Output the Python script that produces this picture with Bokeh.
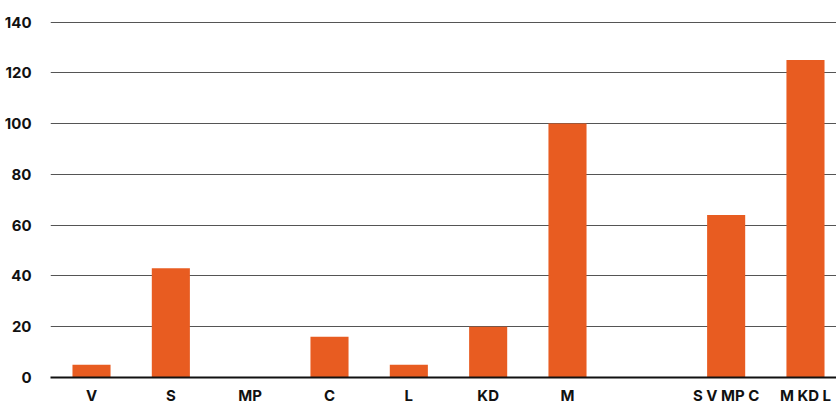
from bokeh.plotting import figure
from bokeh.models import Range1d, FixedTicker, ColumnDataSource
from bokeh.embed import file_html
from bokeh.resources import INLINE

categories = ["V", "S", "MP", "C", "L", "KD", "M", "", "S V MP C", "M KD L"]
values = [5, 43, 0, 16, 5, 20, 100, 0, 64, 125]
y_ticks = [0, 20, 40, 60, 80, 100, 120, 140]

xs = [i for i, c in enumerate(categories) if c]
src = ColumnDataSource(dict(x=list(range(len(categories))), top=values))

p = figure(width=836, height=407, output_backend="svg", toolbar_location=None,
           x_range=Range1d(-0.517, 9.391), y_range=Range1d(0, 140.6),
           min_border_left=50, min_border_right=0, min_border_top=20, min_border_bottom=30)
p.outline_line_color = None
p.background_fill_color = "white"

p.vbar(x="x", top="top", width=0.48, source=src, color="#E85C21", line_color=None)

p.xaxis.ticker = FixedTicker(ticks=xs)
p.xaxis.major_label_overrides = {i: categories[i] for i in xs}
p.yaxis.ticker = FixedTicker(ticks=y_ticks)

for ax in (p.xaxis[0], p.yaxis[0]):
    ax.major_tick_line_color = None
    ax.minor_tick_line_color = None
    ax.major_label_text_font = "Inter"
    ax.major_label_text_font_style = "bold"
    ax.major_label_text_font_size = "15px"
    ax.major_label_text_color = "#111111"

p.yaxis.axis_line_color = None
p.yaxis.major_label_standoff = 13
p.xaxis.axis_line_color = "#111111"
p.xaxis.axis_line_width = 2
p.xaxis.major_label_standoff = 2

p.xgrid.grid_line_color = None
p.ygrid.grid_line_color = "#555555"
p.ygrid.grid_line_width = 1.2
p.ygrid.level = "underlay"

open("out.html", "w").write(file_html(p, INLINE))
